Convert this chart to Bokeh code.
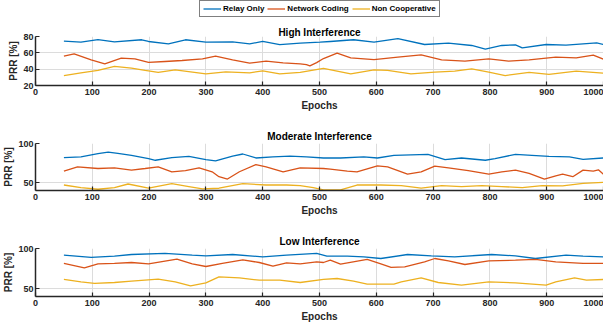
from bokeh.plotting import figure
from bokeh.models import Legend, LegendItem, FixedTicker, Range1d
from bokeh.layouts import column
from bokeh.embed import file_html
from bokeh.resources import INLINE

SERIES_NAMES = ["Relay Only", "Network Coding", "Non Cooperative"]
COLORS = ["#0072BD", "#D95319", "#EDB120"]
PANEL_TITLES = ["High Interference", "Moderate Interference", "Low Interference"]
X_TICKS = [0, 100, 200, 300, 400, 500, 600, 700, 800, 900, 1000]
X_LABEL = "Epochs"
Y_LABEL = "PRR [%]"

# ---- High interference ----
high_relay_epochs = [50, 80, 110, 139, 187, 199, 234, 264, 300, 347, 377, 400, 430, 466, 501,
                     519, 560, 596, 638, 685, 727, 768, 792, 821, 845, 857, 899, 934, 964, 988, 1000]
high_relay_prr = [74.3, 73.0, 76.3, 73.5, 76.0, 73.9, 71.0, 76.0, 73.0, 73.5, 71.0, 73.9, 70.0, 72.0, 73.0,
                  73.9, 76.0, 73.0, 77.5, 70.2, 71.8, 69.0, 64.5, 69.0, 69.8, 66.0, 70.2, 69.4, 71.0, 72.2, 70.2]

high_nc_epochs = [50, 68, 98, 122, 151, 175, 199, 228, 258, 294, 317, 347, 377, 406, 436, 466, 477, 483, 495,
                  507, 531, 555, 596, 638, 679, 715, 756, 798, 833, 869, 916, 952, 982, 1000]
high_nc_prr = [56.0, 58.8, 51.4, 46.5, 53.5, 52.7, 48.2, 49.4, 50.6, 52.7, 56.0, 51.4, 47.3, 49.8, 47.8, 46.5, 45.5, 44.0, 48.0,
               53.0, 59.6, 53.9, 51.8, 54.7, 57.6, 51.4, 49.8, 52.7, 49.8, 51.4, 54.7, 53.9, 57.1, 52.2]

high_noncoop_epochs = [50, 80, 110, 139, 169, 193, 216, 246, 300, 335, 377, 400, 430, 466, 507,
                       555, 596, 620, 661, 703, 738, 768, 798, 827, 869, 904, 952, 1000]
high_noncoop_prr = [32.2, 35.5, 38.4, 43.3, 41.2, 38.4, 36.0, 39.2, 34.3, 36.7, 35.5, 38.0, 34.3, 36.0, 41.0,
                    34.3, 39.2, 38.4, 34.3, 36.3, 37.6, 40.4, 36.3, 32.2, 36.0, 33.5, 37.6, 35.1]

# ---- Moderate interference ----
mod_relay_epochs = [50, 80, 110, 128, 145, 169, 199, 211, 240, 270, 300, 317, 347, 365, 388, 418, 448, 477, 507,
                    537, 578, 602, 631, 691, 721, 750, 792, 809, 845, 874, 904, 940, 964, 1000]
mod_relay_prr = [81.9, 82.8, 87.0, 89.0, 87.4, 84.9, 80.7, 78.6, 81.9, 83.6, 79.4, 77.7, 84.0, 86.6, 81.5, 82.8, 84.0, 82.8, 81.5,
                 81.5, 82.8, 81.5, 84.9, 86.1, 79.4, 81.5, 78.6, 80.7, 86.1, 84.9, 83.6, 82.8, 79.8, 81.5]

mod_nc_epochs = [50, 74, 110, 139, 169, 193, 216, 240, 264, 288, 311, 323, 338, 359, 388, 406, 436, 466, 507,
                 519, 549, 566, 602, 620, 655, 679, 703, 727, 762, 798, 821, 845, 869, 896, 916, 928, 946, 964, 982, 991, 1000]
mod_nc_prr = [64.7, 70.2, 68.1, 68.9, 66.0, 68.1, 70.2, 63.9, 65.5, 68.9, 63.9, 57.6, 54.6, 63.9, 73.1, 70.2, 63.9, 68.9, 68.1,
              67.2, 64.7, 63.9, 71.4, 70.2, 60.9, 63.9, 71.0, 68.9, 65.5, 60.9, 63.9, 66.0, 61.8, 54.6, 58.8, 60.9, 57.6, 66.0, 64.7, 66.4, 60.5]

mod_noncoop_epochs = [50, 80, 110, 139, 163, 199, 240, 270, 294, 323, 365, 406, 442, 466, 489, 507,
                      537, 566, 608, 644, 679, 715, 750, 786, 821, 857, 892, 928, 964, 1000]
mod_noncoop_prr = [47.0, 43.7, 41.6, 43.7, 48.3, 42.9, 48.7, 45.0, 42.0, 42.9, 48.7, 47.0, 47.0, 46.2, 43.7, 40.8,
                   40.8, 47.0, 47.0, 46.2, 42.9, 46.2, 45.0, 46.2, 45.0, 43.7, 46.2, 45.8, 49.2, 50.4]

# ---- Low interference ----
low_relay_epochs = [50, 98, 139, 169, 228, 276, 300, 347, 400, 442, 495, 513, 549, 578, 608, 655, 697, 738,
                    803, 845, 880, 934, 964, 1000]
low_relay_prr = [91.7, 88.8, 90.4, 92.5, 93.8, 91.7, 90.8, 92.5, 89.6, 91.7, 93.8, 90.4, 90.4, 89.6, 87.5, 92.5, 90.8, 89.6,
                 92.5, 90.8, 87.5, 91.7, 90.4, 89.6]

low_nc_epochs = [50, 86, 110, 139, 169, 199, 249, 276, 300, 329, 365, 394, 418, 442, 466, 495, 507,
                 519, 537, 584, 608, 626, 650, 685, 703, 727, 756, 798, 845, 880, 916, 964, 1000]
low_nc_prr = [81.3, 75.8, 80.8, 81.3, 82.5, 80.8, 86.7, 80.8, 77.5, 81.3, 85.8, 82.5, 77.9, 82.1, 80.8, 83.3, 82.5,
              85.4, 80.4, 86.3, 80.8, 76.3, 77.1, 83.3, 87.5, 84.6, 80.0, 84.6, 85.4, 86.3, 83.3, 81.3, 81.3]

low_noncoop_epochs = [50, 80, 104, 139, 169, 216, 246, 273, 300, 323, 359, 394, 430, 466, 507,
                      531, 560, 584, 631, 644, 679, 709, 750, 798, 845, 899, 916, 949, 970, 1000]
low_noncoop_prr = [61.3, 58.3, 56.3, 57.5, 59.2, 61.7, 58.3, 53.3, 57.1, 64.6, 63.3, 60.4, 60.4, 57.5, 61.3,
                   62.5, 59.2, 55.4, 55.4, 58.3, 63.3, 57.5, 54.2, 58.3, 57.1, 54.2, 58.3, 63.3, 60.4, 61.3]

PANEL_DATA = [
    [(high_relay_epochs, high_relay_prr), (high_nc_epochs, high_nc_prr), (high_noncoop_epochs, high_noncoop_prr)],
    [(mod_relay_epochs, mod_relay_prr), (mod_nc_epochs, mod_nc_prr), (mod_noncoop_epochs, mod_noncoop_prr)],
    [(low_relay_epochs, low_relay_prr), (low_nc_epochs, low_nc_prr), (low_noncoop_epochs, low_noncoop_prr)],
]
Y_RANGES = [(20, 80), (40, 100), (40, 100)]
Y_TICKS = [[20, 40, 60, 80], [50, 100], [50, 100]]

# layout (heights, borders)
LEGEND_HEIGHT = 17
HEIGHTS = [96, 105, 111]
TOP_BORDERS = [19, 30, 30]
BOTTOM_BORDERS = [28, 27, 33]
TITLE_STANDOFF = [-3, 4, 4]

FONT = "Liberation Sans"
TXT = "#262626"

# ---- legend strip on top ----
leg_fig = figure(width=603, height=LEGEND_HEIGHT, output_backend="svg", toolbar_location=None,
                 x_range=Range1d(0, 1000), y_range=Range1d(0, 1),
                 x_axis_location=None, y_axis_location=None,
                 min_border_left=0, min_border_right=0, min_border_top=0, min_border_bottom=0)
leg_fig.outline_line_color = None
leg_fig.xgrid.visible = False
leg_fig.ygrid.visible = False
leg_renderers = []
for (xs, ys), c in zip(PANEL_DATA[0], COLORS):
    # same series; sits outside this strip's visible range, only used for the legend key
    leg_renderers.append(leg_fig.line(xs, ys, line_color=c, line_width=1.3))
legend = Legend(items=[LegendItem(label=n, renderers=[r]) for n, r in zip(SERIES_NAMES, leg_renderers)],
                orientation="horizontal", location=(164, 0))
legend.border_line_color = "black"
legend.border_line_width = 1.2
legend.background_fill_color = "white"
legend.background_fill_alpha = 1
legend.label_text_font = FONT
legend.label_text_font_size = "8px"
legend.label_text_font_style = "bold"
legend.label_text_color = "black"
legend.glyph_width = 18
legend.glyph_height = 9
legend.label_height = 9
legend.label_standoff = 2
legend.spacing = 3
legend.padding = 3
legend.margin = 0
leg_fig.add_layout(legend, "center")

figs = [leg_fig]
for i in range(3):
    p = figure(width=603, height=HEIGHTS[i], output_backend="svg", toolbar_location=None,
               x_range=Range1d(0, 1000), y_range=Range1d(*Y_RANGES[i]),
               min_border_left=33, min_border_right=0,
               min_border_top=TOP_BORDERS[i], min_border_bottom=BOTTOM_BORDERS[i])
    p.outline_line_color = None
    p.background_fill_color = "white"
    p.border_fill_color = "white"

    p.title.text = PANEL_TITLES[i]
    p.title.align = "center"
    p.title.text_font = FONT
    p.title.text_font_size = "10px"
    p.title.text_font_style = "bold"
    p.title.text_color = "black"
    p.title.standoff = TITLE_STANDOFF[i]

    p.xaxis.ticker = FixedTicker(ticks=X_TICKS)
    p.yaxis.ticker = FixedTicker(ticks=Y_TICKS[i])
    p.xaxis.axis_label = X_LABEL
    p.yaxis.axis_label = Y_LABEL
    for ax in (p.xaxis, p.yaxis):
        ax.axis_line_color = TXT
        ax.axis_line_width = 1.5
        ax.major_tick_line_color = TXT
        ax.major_tick_line_width = 1.2
        ax.major_tick_in = 4
        ax.major_tick_out = 0
        ax.minor_tick_line_color = None
        ax.major_label_text_font = FONT
        ax.major_label_text_font_size = "9px"
        ax.major_label_text_font_style = "bold"
        ax.major_label_text_color = TXT
        ax.axis_label_text_font = FONT
        ax.axis_label_text_font_size = "10px"
        ax.axis_label_text_font_style = "bold"
        ax.axis_label_text_color = TXT
    p.xaxis.major_label_standoff = 3
    p.xaxis.axis_label_standoff = 2
    p.yaxis.major_label_standoff = 2
    p.yaxis.axis_label_standoff = 1

    p.xgrid.ticker = FixedTicker(ticks=X_TICKS)
    p.ygrid.ticker = FixedTicker(ticks=Y_TICKS[i])
    for g in (p.xgrid, p.ygrid):
        g.grid_line_color = "#dcdcdc"
        g.grid_line_width = 1

    for (xs, ys), c in zip(PANEL_DATA[i], COLORS):
        p.line(xs, ys, line_color=c, line_width=1.3)
    figs.append(p)

layout = column(*figs, spacing=0)
open("out.html", "w").write(file_html(layout, INLINE))
